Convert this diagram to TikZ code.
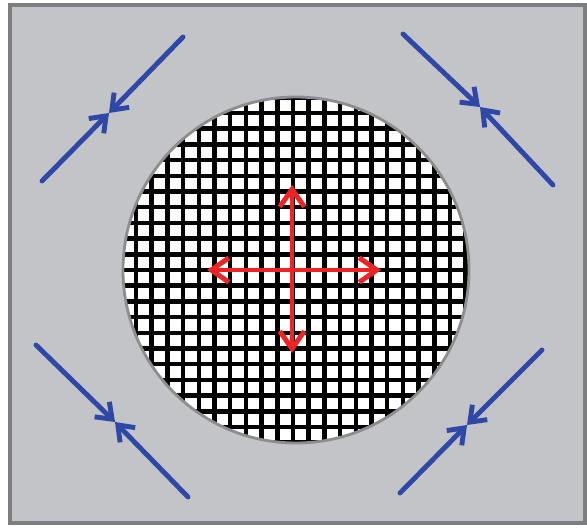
\documentclass[tikz,border=0pt]{standalone}
\usepackage{amsmath}
\definecolor{panelcol}{HTML}{C3C4C8}
\definecolor{framecol}{HTML}{7D7E80}
\definecolor{rimcol}{HTML}{8C8D90}
\definecolor{bluecol}{HTML}{2F48A8}
\definecolor{redcol}{HTML}{EE2424}
\usetikzlibrary{arrows.meta}

\begin{document}
\begin{tikzpicture}[x=0.02cm, y=-0.02cm,
  squeeze/.style={bluecol, line width=2.8pt, line cap=round,
    -{Straight Barb[length=8pt, width=12pt, line width=2.8pt]}},
  pull/.style={redcol, line width=2.8pt,
    {Straight Barb[length=10pt, width=14pt, line width=2.8pt]}-{Straight Barb[length=10pt, width=14pt, line width=2.8pt]}},
  meshline/.style={black, line width=2.6pt}]

\useasboundingbox (0,0) rectangle (587,527);

% === Panel ===
\fill[panelcol] (10,5) rectangle (585,523);
\draw[framecol, line width=2.8pt] (10,5) rectangle (585,523);

% === Meshed disc ===
\coordinate (ctr) at (296,270);
\pgfmathsetmacro{\rad}{173}
\pgfmathsetmacro{\pitch}{15.7}
\begin{scope}
  \clip (ctr) circle (\rad);
  \fill[white] (ctr) circle (\rad);
  \foreach \k in {-12,...,12} {
    \draw[meshline] ({293+\k*\pitch},90) -- ({293+\k*\pitch},450);
    \draw[meshline] (115,{270+\k*\pitch}) -- (475,{270+\k*\pitch});
  }
\end{scope}
\draw[rimcol, line width=1.6pt] (ctr) circle (\rad);

% === Red arrows (stretch) ===
\coordinate (up)    at (292,185);
\coordinate (down)  at (292,353);
\coordinate (left)  at (207,270);
\coordinate (right) at (381,270);
\draw[pull] (down) -- (up);
\draw[pull] (left) -- (right);

% === Blue arrows (compression) ===
\coordinate (tl-a) at (183,37);  \coordinate (tl-m) at (109,113);
\coordinate (tl-b) at (42,181);
\coordinate (tr-a) at (403,34);  \coordinate (tr-m) at (480,107);
\coordinate (tr-b) at (553,185);
\coordinate (bl-a) at (36,345);  \coordinate (bl-m) at (115,422);
\coordinate (bl-b) at (188,497);
\coordinate (br-a) at (542,350); \coordinate (br-m) at (467,425);
\coordinate (br-b) at (400,493);

\foreach \c in {tl,tr,bl,br} {
  \draw[squeeze] (\c-a) -- (\c-m);
  \draw[squeeze] (\c-b) -- (\c-m);
}

\end{tikzpicture}
\end{document}
